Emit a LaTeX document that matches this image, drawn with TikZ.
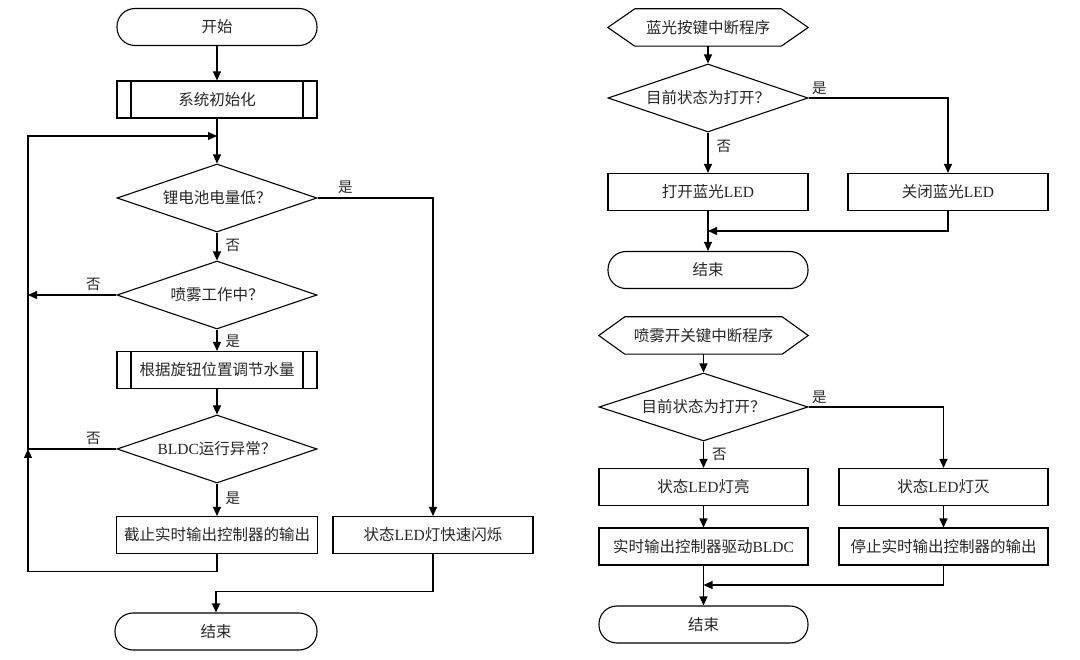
\documentclass[tikz,border=0pt]{standalone}
\usepackage{fontspec}
\setmainfont{Liberation Serif}
\newfontfamily\cjk{Noto Sans CJK SC}
\usetikzlibrary{shapes.geometric,arrows.meta}
\newcommand\zhx[1]{{\cjk #1}}
\tikzset{
  base/.style={draw, line width=1.1pt, minimum width=200pt, minimum height=37pt, inner sep=0pt,
    font=\fontsize{15.5}{18}\selectfont, text=black!85},
  proc/.style={base, rectangle},
  term/.style={base, rectangle, rounded corners=18pt},
  sub/.style={base, rectangle, path picture={
      \draw[line width=1.1pt] ([xshift=14pt]path picture bounding box.north west) -- ([xshift=14pt]path picture bounding box.south west)
        ([xshift=-14pt]path picture bounding box.north east) -- ([xshift=-14pt]path picture bounding box.south east);}},
  dec/.style={base, diamond, aspect=2.94, minimum height=68pt},
  hexa/.style={minimum width=200pt, minimum height=37pt, inner sep=0pt, font=\fontsize{15.5}{18}\selectfont, text=black!85},
  lbl/.style={font=\cjk\fontsize{14.5}{16}\selectfont, text=black!85, inner sep=4pt},
  rl/.style={lbl, right, xshift=4pt},
  arr/.style={-{Triangle[length=9pt,width=8pt]}, line width=1.1pt},
  ln/.style={line width=1.1pt}
}
\begin{document}
\begin{tikzpicture}[x=1pt,y=-1pt]
\useasboundingbox (0,0) rectangle (1080,660);

% ---------------- left chart ----------------
\node[term] (start) at (217,27) {\zhx{开始}};
\node[sub] (init) at (217,99.5) {\zhx{系统初始化}};
\node[dec] (d1) at (217,198) {\zhx{锂电池电量低？}};
\node[dec] (d2) at (217,295) {\zhx{喷雾工作中？}};
\node[sub] (adj) at (217,370) {\zhx{根据旋钮位置调节水量}};
\node[dec] (d3) at (217,449) {BLDC\zhx{运行异常？}};
\node[proc, minimum width=201pt] (cut) at (217,535) {\zhx{截止实时输出控制器的输出}};
\node[proc] (flash) at (433,535) {\zhx{状态}LED\zhx{灯快速闪烁}};
\node[term, minimum width=202pt] (end1) at (216,631.5) {\zhx{结束}};

\coordinate (m1) at (217,136);
\coordinate (lp2) at (28,295);
\coordinate (lp3) at (28,449);

\draw[arr] (start) -- (init);
\draw[arr] (init) -- (d1);
\draw[arr] (d1) -- node[rl, pos=0.45] {否} (d2);
\draw[arr] (d1.east) -| node[lbl, above, pos=0.12] {是} (flash.north);
\draw[arr] (d2.west) -- node[lbl, above, pos=0.26] {否} (lp2);
\draw[arr] (d2) -- node[rl, pos=0.55] {是} (adj);
\draw[arr] (adj) -- (d3);
\draw[arr] (d3) -- node[rl, pos=0.45] {是} (cut);
\draw[arr] (d3.west) -- node[lbl, above, pos=0.26] {否} (lp3) -- (28,136) -- (m1);
\draw[arr] (cut.south) -- ++(0,17) -| (lp3);
\draw[arr] (flash.south) -- ++(0,37) -| (end1.north);

% ---------------- right top chart ----------------
\node[hexa] (h1) at (708,27.5) {\zhx{蓝光按键中断程序}};
\draw[ln] (h1.west) -- ([xshift=27pt]h1.north west) -- ([xshift=-27pt]h1.north east) -- (h1.east)
  -- ([xshift=-27pt]h1.south east) -- ([xshift=27pt]h1.south west) -- cycle;
\node[dec] (d4) at (708,98) {\zhx{目前状态为打开？}};
\node[proc] (on) at (708,192) {\zhx{打开蓝光}LED};
\node[proc] (off) at (948,192) {\zhx{关闭蓝光}LED};
\node[term] (end2) at (708,270) {\zhx{结束}};
\coordinate (m2) at (708,231);

\draw[arr] (h1) -- (d4);
\draw[arr] (d4) -- node[rl, pos=0.35] {否} (on);
\draw[arr] (d4.east) -| node[lbl, above right, pos=0, inner sep=3pt] {是} (off.north);
\draw[arr] (on) -- (end2);
\draw[arr] (off.south) |- (m2);

% ---------------- right bottom chart ----------------
\node[hexa, minimum width=209pt] (h2) at (703.5,335.5) {\zhx{喷雾开关键中断程序}};
\draw[ln] (h2.west) -- ([xshift=26pt]h2.north west) -- ([xshift=-26pt]h2.north east) -- (h2.east)
  -- ([xshift=-26pt]h2.south east) -- ([xshift=26pt]h2.south west) -- cycle;
\node[dec, minimum width=209pt] (d5) at (703.5,407) {\zhx{目前状态为打开？}};
\node[proc, minimum width=209pt] (s1) at (703.5,487) {\zhx{状态}LED\zhx{灯亮}};
\node[proc, minimum width=209pt] (s2) at (943.5,487) {\zhx{状态}LED\zhx{灯灭}};
\node[proc, minimum width=209pt] (b1) at (703.5,546.5) {\zhx{实时输出控制器驱动}BLDC};
\node[proc, minimum width=209pt] (b2) at (943.5,546.5) {\zhx{停止实时输出控制器的输出}};
\node[term, minimum width=209pt] (end3) at (703.5,624.5) {\zhx{结束}};
\coordinate (m3) at (703.5,585);

\draw[arr] (h2) -- (d5);
\draw[arr] (d5) -- node[rl, pos=0.5] {否} (s1);
\draw[arr] (d5.east) -| node[lbl, above right, pos=0, inner sep=3pt] {是} (s2.north);
\draw[arr] (s1) -- (b1);
\draw[arr] (s2) -- (b2);
\draw[arr] (b1) -- (end3);
\draw[arr] (b2.south) |- (m3);
\end{tikzpicture}
\end{document}
